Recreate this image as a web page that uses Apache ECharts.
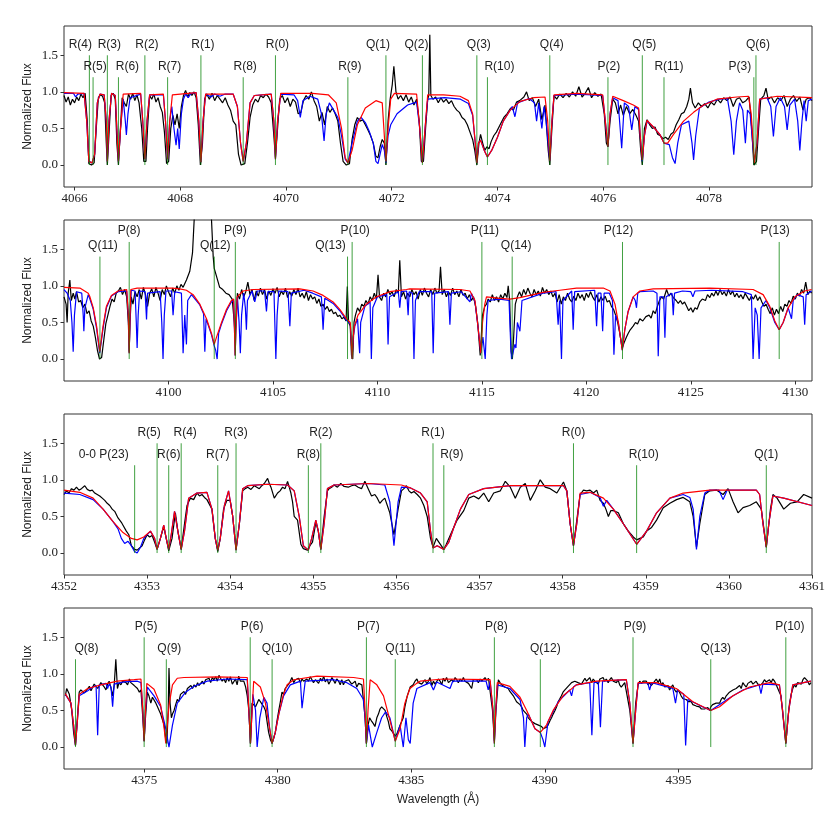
<!DOCTYPE html>
<html>
<head>
<meta charset="utf-8">
<script src="https://cdn.jsdelivr.net/npm/echarts@6.0.0/dist/echarts.min.js"></script>
<style>
html, body { margin: 0; padding: 0; background: #fff; }
#chart { width: 830px; height: 825px; }
</style>
</head>
<body>
<div id="chart"></div>
<script>
// ---- panel 1 : 4066 - 4080 A ----
var p1Ticks = [4066, 4068, 4070, 4072, 4074, 4076, 4078];
var p1Lines = [['R(4)',4066.28,1.5],['R(5)',4066.35,1.2],['R(3)',4066.62,1.5],['R(6)',4066.83,1.2],['R(2)',4067.33,1.5],['R(7)',4067.76,1.2],['R(1)',4068.39,1.5],['R(8)',4069.19,1.2],['R(0)',4069.80,1.5],['R(9)',4071.17,1.2],['Q(1)',4071.89,1.5],['Q(2)',4072.58,1.5],['Q(3)',4073.61,1.5],['R(10)',4073.81,1.2],['Q(4)',4074.99,1.5],['P(2)',4076.09,1.2],['Q(5)',4076.74,1.5],['R(11)',4077.15,1.2],['P(3)',4078.85,1.2],['Q(6)',4078.89,1.5]];
var p1Obs = [[4065.80,0.95],[4065.84,0.86],[4065.88,0.93],[4065.92,0.82],[4065.96,0.9],[4066.00,0.85],[4066.04,0.93],[4066.08,0.88],[4066.12,0.97],[4066.16,0.92],[4066.20,0.98],[4066.24,0.6],[4066.27,0.02],[4066.32,0.0],[4066.37,0.03],[4066.41,0.5],[4066.45,0.92],[4066.49,0.96],[4066.53,0.94],[4066.57,0.85],[4066.60,0.3],[4066.62,0.0],[4066.65,0.4],[4066.69,0.95],[4066.73,0.98],[4066.77,0.9],[4066.80,0.3],[4066.83,0.0],[4066.86,0.4],[4066.90,0.92],[4066.94,0.85],[4066.98,0.8],[4067.02,0.97],[4067.06,0.9],[4067.10,0.98],[4067.14,0.88],[4067.18,0.96],[4067.22,0.85],[4067.27,0.5],[4067.31,0.05],[4067.35,0.05],[4067.38,0.5],[4067.42,0.95],[4067.46,0.9],[4067.50,0.97],[4067.54,0.86],[4067.58,0.92],[4067.62,0.8],[4067.66,0.72],[4067.70,0.45],[4067.74,0.02],[4067.78,0.05],[4067.82,0.5],[4067.86,0.68],[4067.90,0.55],[4067.94,0.7],[4067.98,0.5],[4068.02,0.8],[4068.06,0.95],[4068.10,1.02],[4068.14,0.93],[4068.18,0.99],[4068.22,0.95],[4068.26,1.0],[4068.30,0.92],[4068.34,0.55],[4068.38,0.0],[4068.42,0.3],[4068.46,0.9],[4068.50,0.97],[4068.55,0.9],[4068.60,0.98],[4068.65,0.88],[4068.70,0.95],[4068.75,0.9],[4068.80,0.85],[4068.85,0.92],[4068.90,0.82],[4068.95,0.75],[4069.00,0.6],[4069.05,0.55],[4069.10,0.15],[4069.15,0.0],[4069.22,0.02],[4069.27,0.3],[4069.32,0.65],[4069.37,0.82],[4069.42,0.9],[4069.47,0.86],[4069.52,0.95],[4069.57,0.92],[4069.62,0.97],[4069.67,0.93],[4069.72,0.85],[4069.77,0.4],[4069.80,0.1],[4069.83,0.4],[4069.88,0.9],[4069.93,0.95],[4069.98,0.85],[4070.03,0.92],[4070.08,0.8],[4070.13,0.9],[4070.18,0.86],[4070.23,0.7],[4070.28,0.72],[4070.33,0.88],[4070.38,0.95],[4070.43,0.9],[4070.48,1.0],[4070.53,0.88],[4070.58,0.8],[4070.63,0.6],[4070.68,0.72],[4070.73,0.55],[4070.78,0.8],[4070.83,0.72],[4070.88,0.78],[4070.93,0.7],[4070.98,0.6],[4071.03,0.3],[4071.08,0.05],[4071.14,0.0],[4071.20,0.02],[4071.25,0.35],[4071.30,0.55],[4071.35,0.65],[4071.40,0.6],[4071.45,0.62],[4071.50,0.55],[4071.55,0.48],[4071.60,0.4],[4071.65,0.3],[4071.70,0.12],[4071.74,0.1],[4071.78,0.25],[4071.82,0.35],[4071.86,0.3],[4071.89,0.0],[4071.93,0.6],[4071.97,0.9],[4072.01,1.1],[4072.04,1.35],[4072.08,1.0],[4072.12,0.9],[4072.17,0.95],[4072.22,0.88],[4072.27,0.96],[4072.32,0.86],[4072.37,0.93],[4072.42,0.82],[4072.47,0.9],[4072.52,0.6],[4072.56,0.05],[4072.60,0.05],[4072.64,0.5],[4072.68,0.9],[4072.70,0.95],[4072.72,1.78],[4072.74,0.95],[4072.78,0.9],[4072.83,0.93],[4072.88,0.85],[4072.93,0.92],[4072.98,0.86],[4073.03,0.9],[4073.08,0.84],[4073.13,0.88],[4073.18,0.8],[4073.23,0.75],[4073.28,0.72],[4073.33,0.65],[4073.38,0.62],[4073.43,0.55],[4073.48,0.45],[4073.53,0.35],[4073.57,0.2],[4073.61,0.0],[4073.65,0.3],[4073.68,0.42],[4073.72,0.3],[4073.76,0.2],[4073.80,0.25],[4073.84,0.22],[4073.88,0.32],[4073.93,0.4],[4073.98,0.45],[4074.05,0.55],[4074.12,0.65],[4074.18,0.7],[4074.25,0.78],[4074.30,0.75],[4074.36,0.86],[4074.42,0.88],[4074.50,0.93],[4074.55,1.0],[4074.60,0.88],[4074.66,0.92],[4074.72,0.8],[4074.78,0.9],[4074.84,0.62],[4074.90,0.82],[4074.96,0.2],[4074.99,0.0],[4075.03,0.5],[4075.07,0.95],[4075.12,0.9],[4075.18,0.97],[4075.24,0.92],[4075.30,0.98],[4075.36,0.93],[4075.42,1.0],[4075.48,0.94],[4075.54,1.07],[4075.60,0.93],[4075.66,0.98],[4075.72,1.06],[4075.78,0.92],[4075.84,0.99],[4075.90,0.94],[4075.96,0.97],[4076.02,0.7],[4076.06,0.3],[4076.09,0.25],[4076.13,0.6],[4076.18,0.9],[4076.23,0.85],[4076.28,0.7],[4076.33,0.82],[4076.38,0.68],[4076.44,0.8],[4076.50,0.7],[4076.56,0.76],[4076.62,0.68],[4076.67,0.6],[4076.71,0.2],[4076.74,0.0],[4076.78,0.5],[4076.83,0.62],[4076.88,0.55],[4076.93,0.5],[4076.98,0.52],[4077.03,0.42],[4077.08,0.4],[4077.13,0.36],[4077.18,0.38],[4077.23,0.35],[4077.28,0.42],[4077.33,0.45],[4077.38,0.55],[4077.43,0.62],[4077.48,0.7],[4077.53,0.72],[4077.58,0.8],[4077.62,0.9],[4077.65,1.05],[4077.69,0.85],[4077.74,0.78],[4077.80,0.85],[4077.86,0.8],[4077.92,0.84],[4077.98,0.78],[4078.04,0.86],[4078.10,0.82],[4078.16,0.9],[4078.22,0.85],[4078.28,0.92],[4078.34,0.88],[4078.40,0.93],[4078.46,0.8],[4078.52,0.9],[4078.58,0.92],[4078.64,0.85],[4078.70,0.88],[4078.76,0.93],[4078.81,0.5],[4078.85,0.0],[4078.90,0.05],[4078.94,0.5],[4078.98,0.9],[4079.04,0.95],[4079.08,1.05],[4079.12,0.9],[4079.18,0.93],[4079.24,0.85],[4079.30,0.92],[4079.36,0.88],[4079.42,0.95],[4079.48,0.8],[4079.54,0.9],[4079.60,0.95],[4079.66,0.87],[4079.72,0.93],[4079.78,0.75],[4079.84,0.9],[4079.90,0.92],[4079.95,0.88]];
var p1Blue = [[4065.8,0.98],[4065.98,0.98],[4066.02,0.93],[4066.06,0.97],[4066.18,0.98],[4066.23,0.6],[4066.27,0.05],[4066.33,0.03],[4066.38,0.15],[4066.43,0.85],[4066.48,0.97],[4066.56,0.96],[4066.6,0.6],[4066.62,0.05],[4066.65,0.6],[4066.7,0.98],[4066.77,0.95],[4066.8,0.5],[4066.83,0.05],[4066.87,0.5],[4066.92,0.9],[4066.96,0.6],[4066.98,0.41],[4067.01,0.7],[4067.05,0.92],[4067.25,0.97],[4067.29,0.6],[4067.33,0.08],[4067.37,0.6],[4067.42,0.96],[4067.68,0.96],[4067.72,0.6],[4067.76,0.08],[4067.8,0.6],[4067.84,0.8],[4067.88,0.5],[4067.92,0.27],[4067.95,0.5],[4067.98,0.22],[4068.02,0.7],[4068.06,0.9],[4068.1,0.97],[4068.15,0.92],[4068.2,0.98],[4068.3,0.99],[4068.35,0.6],[4068.39,0.04],[4068.43,0.6],[4068.48,0.97],[4068.58,0.93],[4068.65,0.97],[4068.75,0.94],[4068.85,0.97],[4069.0,0.97],[4069.08,0.8],[4069.14,0.3],[4069.19,0.05],[4069.25,0.3],[4069.32,0.85],[4069.4,0.95],[4069.72,0.97],[4069.77,0.6],[4069.8,0.08],[4069.84,0.6],[4069.9,0.97],[4070.15,0.96],[4070.22,0.88],[4070.27,0.65],[4070.32,0.88],[4070.45,0.94],[4070.6,0.9],[4070.67,0.7],[4070.72,0.33],[4070.76,0.7],[4070.82,0.85],[4070.9,0.75],[4070.98,0.65],[4071.05,0.4],[4071.12,0.08],[4071.17,0.03],[4071.25,0.3],[4071.35,0.6],[4071.42,0.65],[4071.5,0.58],[4071.58,0.45],[4071.65,0.3],[4071.7,0.05],[4071.74,0.02],[4071.78,0.15],[4071.82,0.28],[4071.86,0.2],[4071.89,0.03],[4071.93,0.4],[4071.98,0.55],[4072.1,0.7],[4072.3,0.82],[4072.47,0.86],[4072.53,0.5],[4072.58,0.03],[4072.63,0.5],[4072.68,0.9],[4073.0,0.92],[4073.3,0.9],[4073.45,0.84],[4073.53,0.68],[4073.58,0.3],[4073.61,0.03],[4073.64,0.3],[4073.68,0.34],[4073.75,0.2],[4073.81,0.11],[4073.89,0.2],[4074.0,0.38],[4074.11,0.6],[4074.24,0.75],[4074.28,0.8],[4074.33,0.66],[4074.38,0.85],[4074.6,0.91],[4074.7,0.85],[4074.74,0.6],[4074.78,0.85],[4074.84,0.5],[4074.88,0.8],[4074.92,0.6],[4074.99,0.06],[4075.03,0.6],[4075.07,0.95],[4075.5,0.97],[4075.99,0.95],[4076.04,0.6],[4076.09,0.25],[4076.13,0.7],[4076.18,0.92],[4076.28,0.88],[4076.35,0.23],[4076.4,0.85],[4076.48,0.8],[4076.54,0.48],[4076.6,0.8],[4076.67,0.76],[4076.7,0.4],[4076.74,0.05],[4076.78,0.4],[4076.83,0.6],[4076.95,0.52],[4077.07,0.42],[4077.15,0.3],[4077.25,0.28],[4077.31,0.1],[4077.36,0.02],[4077.41,0.3],[4077.48,0.55],[4077.62,0.6],[4077.68,0.3],[4077.71,0.07],[4077.75,0.4],[4077.82,0.78],[4078.0,0.86],[4078.2,0.9],[4078.35,0.91],[4078.42,0.6],[4078.47,0.14],[4078.52,0.6],[4078.58,0.85],[4078.64,0.75],[4078.69,0.3],[4078.73,0.75],[4078.78,0.7],[4078.86,0.03],[4078.91,0.3],[4078.96,0.9],[4079.1,0.92],[4079.17,0.8],[4079.22,0.39],[4079.27,0.8],[4079.35,0.92],[4079.43,0.8],[4079.48,0.48],[4079.53,0.82],[4079.62,0.9],[4079.68,0.6],[4079.72,0.2],[4079.76,0.6],[4079.8,0.88],[4079.84,0.6],[4079.88,0.88],[4079.95,0.9]];
var p1Red = [[4065.8,0.99],[4066.18,0.98],[4066.23,0.6],[4066.27,0.05],[4066.33,0.03],[4066.38,0.15],[4066.43,0.85],[4066.48,0.97],[4066.56,0.96],[4066.6,0.6],[4066.62,0.05],[4066.65,0.6],[4066.7,0.98],[4066.77,0.95],[4066.8,0.5],[4066.83,0.05],[4066.87,0.5],[4066.92,0.97],[4067.25,0.98],[4067.29,0.6],[4067.33,0.08],[4067.37,0.6],[4067.42,0.96],[4067.68,0.97],[4067.72,0.6],[4067.76,0.08],[4067.8,0.6],[4067.85,0.96],[4068.3,0.99],[4068.35,0.6],[4068.39,0.04],[4068.43,0.6],[4068.48,0.97],[4069.0,0.97],[4069.08,0.8],[4069.14,0.3],[4069.19,0.05],[4069.25,0.3],[4069.32,0.85],[4069.4,0.95],[4069.72,0.97],[4069.77,0.6],[4069.8,0.08],[4069.84,0.6],[4069.9,0.98],[4070.5,0.98],[4070.8,0.96],[4070.95,0.85],[4071.05,0.5],[4071.12,0.1],[4071.17,0.03],[4071.25,0.2],[4071.35,0.55],[4071.5,0.78],[4071.7,0.88],[4071.82,0.85],[4071.86,0.4],[4071.89,0.05],[4071.93,0.5],[4071.98,0.9],[4072.05,0.98],[4072.47,0.97],[4072.53,0.5],[4072.58,0.03],[4072.63,0.5],[4072.68,0.96],[4072.98,0.96],[4073.29,0.94],[4073.45,0.88],[4073.53,0.7],[4073.58,0.3],[4073.61,0.03],[4073.64,0.3],[4073.68,0.34],[4073.75,0.2],[4073.81,0.11],[4073.89,0.2],[4074.0,0.38],[4074.11,0.6],[4074.24,0.75],[4074.43,0.87],[4074.68,0.92],[4074.9,0.93],[4074.95,0.6],[4074.99,0.06],[4075.03,0.6],[4075.07,0.96],[4075.5,0.98],[4075.99,0.96],[4076.04,0.6],[4076.09,0.25],[4076.13,0.7],[4076.18,0.94],[4076.38,0.88],[4076.57,0.82],[4076.67,0.78],[4076.7,0.4],[4076.74,0.07],[4076.78,0.4],[4076.83,0.61],[4076.95,0.52],[4077.07,0.42],[4077.15,0.3],[4077.22,0.3],[4077.33,0.42],[4077.52,0.6],[4077.71,0.72],[4077.9,0.82],[4078.15,0.9],[4078.53,0.93],[4078.75,0.94],[4078.8,0.7],[4078.86,0.03],[4078.91,0.3],[4078.96,0.9],[4079.29,0.94],[4079.95,0.92]];

// ---- panel 2 : 4095 - 4131 A ----
var p2Ticks = [4100, 4105, 4110, 4115, 4120, 4125, 4130];
var p2Lines = [['Q(11)',4096.72,1.4],['P(8)',4098.12,1.6],['Q(12)',4102.19,1.4],['P(9)',4103.2,1.6],['Q(13)',4108.57,1.4],['P(10)',4108.79,1.6],['P(11)',4115.0,1.6],['Q(14)',4116.45,1.4],['P(12)',4121.73,1.6],['P(13)',4129.23,1.6]];
var p2Obs = [[4095.0,0.85],[4095.1,0.75],[4095.15,0.5],[4095.2,0.9],[4095.28,1.08],[4095.35,0.8],[4095.44,0.9],[4095.52,0.82],[4095.6,0.92],[4095.7,0.78],[4095.8,0.8],[4095.9,0.7],[4096.0,0.75],[4096.1,0.62],[4096.2,0.66],[4096.3,0.52],[4096.4,0.45],[4096.5,0.3],[4096.6,0.12],[4096.7,0.0],[4096.8,0.02],[4096.9,0.25],[4097.0,0.48],[4097.1,0.6],[4097.2,0.72],[4097.3,0.82],[4097.4,0.78],[4097.5,0.9],[4097.6,0.93],[4097.7,0.98],[4097.8,0.88],[4097.9,0.95],[4098.0,0.85],[4098.08,0.5],[4098.12,0.1],[4098.16,0.5],[4098.22,0.85],[4098.3,0.75],[4098.4,0.92],[4098.5,0.85],[4098.6,0.95],[4098.7,0.82],[4098.8,0.98],[4098.9,0.88],[4099.0,0.72],[4099.1,0.9],[4099.2,0.96],[4099.3,0.85],[4099.4,0.98],[4099.5,0.9],[4099.6,0.8],[4099.7,0.95],[4099.8,0.88],[4099.9,1.0],[4100.0,0.92],[4100.1,0.85],[4100.2,0.97],[4100.3,0.9],[4100.4,1.0],[4100.5,0.94],[4100.6,1.02],[4100.7,0.98],[4100.86,1.08],[4101.02,1.2],[4101.15,1.45],[4101.23,1.9],[4101.3,2.4],[4101.7,2.8],[4102.0,2.3],[4102.06,1.9],[4102.14,1.4],[4102.19,1.24],[4102.3,1.13],[4102.45,0.98],[4102.6,0.95],[4102.75,0.9],[4102.9,0.88],[4103.05,0.82],[4103.15,0.5],[4103.19,0.3],[4103.24,0.6],[4103.3,0.9],[4103.4,0.82],[4103.5,0.95],[4103.6,0.85],[4103.7,0.92],[4103.8,1.05],[4103.9,0.88],[4104.0,0.95],[4104.1,0.8],[4104.2,0.93],[4104.3,0.86],[4104.4,0.97],[4104.5,0.88],[4104.6,0.95],[4104.7,0.82],[4104.8,0.93],[4104.9,0.87],[4105.0,0.96],[4105.1,0.9],[4105.2,0.98],[4105.3,0.85],[4105.4,0.93],[4105.5,0.88],[4105.6,0.97],[4105.7,0.84],[4105.8,0.92],[4105.9,0.86],[4106.0,0.95],[4106.1,0.88],[4106.2,0.97],[4106.3,0.85],[4106.4,0.9],[4106.5,0.83],[4106.6,0.92],[4106.7,0.8],[4106.8,0.88],[4106.9,0.82],[4107.0,0.85],[4107.1,0.76],[4107.2,0.82],[4107.3,0.72],[4107.4,0.75],[4107.5,0.68],[4107.6,0.72],[4107.7,0.65],[4107.8,0.68],[4107.9,0.62],[4108.0,0.64],[4108.1,0.58],[4108.2,0.6],[4108.3,0.55],[4108.4,0.57],[4108.5,0.52],[4108.56,0.99],[4108.62,0.5],[4108.7,0.45],[4108.76,0.05],[4108.82,0.0],[4108.88,0.5],[4108.95,0.6],[4109.05,0.7],[4109.15,0.65],[4109.25,0.75],[4109.35,0.72],[4109.45,0.8],[4109.55,0.75],[4109.65,0.85],[4109.75,0.8],[4109.85,0.9],[4109.95,0.82],[4110.03,1.15],[4110.1,0.85],[4110.2,0.8],[4110.3,0.9],[4110.4,0.85],[4110.5,0.95],[4110.6,0.88],[4110.7,0.92],[4110.8,0.85],[4110.9,0.95],[4111.0,0.9],[4111.07,1.35],[4111.15,0.85],[4111.25,0.92],[4111.35,0.82],[4111.45,0.9],[4111.55,0.85],[4111.65,0.95],[4111.75,0.88],[4111.85,0.92],[4111.95,0.82],[4112.05,0.95],[4112.15,0.87],[4112.25,0.97],[4112.35,0.9],[4112.45,0.85],[4112.55,0.95],[4112.65,0.88],[4112.75,0.97],[4112.85,0.9],[4112.95,0.93],[4113.02,1.26],[4113.1,0.88],[4113.2,0.95],[4113.3,0.85],[4113.4,0.92],[4113.5,0.87],[4113.6,0.97],[4113.7,0.88],[4113.8,0.93],[4113.9,0.85],[4114.0,0.95],[4114.1,0.87],[4114.2,0.9],[4114.3,0.82],[4114.4,0.88],[4114.5,0.8],[4114.6,0.85],[4114.7,0.72],[4114.8,0.5],[4114.92,0.05],[4115.03,0.6],[4115.14,0.72],[4115.22,0.75],[4115.3,0.82],[4115.4,0.78],[4115.5,0.88],[4115.6,0.8],[4115.7,0.85],[4115.8,0.78],[4115.9,0.88],[4116.0,0.82],[4116.1,0.9],[4116.2,0.84],[4116.26,1.0],[4116.33,0.8],[4116.4,0.1],[4116.46,0.0],[4116.52,0.3],[4116.6,0.75],[4116.7,0.85],[4116.8,0.92],[4116.9,0.85],[4117.0,0.95],[4117.1,0.88],[4117.2,0.97],[4117.3,0.9],[4117.4,0.85],[4117.5,0.95],[4117.6,0.88],[4117.7,0.93],[4117.8,0.86],[4117.9,0.98],[4118.0,0.9],[4118.1,0.95],[4118.2,0.88],[4118.3,0.93],[4118.4,0.85],[4118.5,0.9],[4118.6,0.78],[4118.7,0.88],[4118.8,0.75],[4118.9,0.85],[4119.0,0.8],[4119.1,0.9],[4119.2,0.82],[4119.3,0.78],[4119.4,0.86],[4119.5,0.8],[4119.6,0.9],[4119.7,0.83],[4119.8,0.88],[4119.9,0.8],[4120.0,0.9],[4120.1,0.84],[4120.2,0.92],[4120.3,0.85],[4120.4,0.8],[4120.5,0.88],[4120.6,0.78],[4120.7,0.85],[4120.8,0.8],[4120.9,0.86],[4121.0,0.78],[4121.1,0.8],[4121.2,0.72],[4121.3,0.68],[4121.4,0.6],[4121.5,0.5],[4121.6,0.35],[4121.72,0.15],[4121.8,0.22],[4121.92,0.3],[4122.0,0.35],[4122.1,0.4],[4122.24,0.45],[4122.35,0.5],[4122.45,0.48],[4122.56,0.55],[4122.7,0.52],[4122.85,0.58],[4123.0,0.6],[4123.1,0.56],[4123.2,0.66],[4123.3,0.62],[4123.4,0.72],[4123.5,0.8],[4123.6,0.85],[4123.7,0.82],[4123.84,0.95],[4123.95,0.86],[4124.05,0.9],[4124.16,0.84],[4124.3,0.8],[4124.4,0.76],[4124.5,0.8],[4124.6,0.75],[4124.7,0.78],[4124.8,0.72],[4124.9,0.66],[4125.0,0.7],[4125.1,0.64],[4125.2,0.7],[4125.3,0.68],[4125.43,0.78],[4125.55,0.82],[4125.7,0.8],[4125.8,0.88],[4125.91,0.84],[4126.0,0.9],[4126.1,0.86],[4126.2,0.93],[4126.3,0.87],[4126.4,0.95],[4126.5,0.88],[4126.6,0.92],[4126.7,0.86],[4126.8,0.95],[4126.9,0.88],[4127.0,0.93],[4127.1,0.85],[4127.2,0.9],[4127.3,0.84],[4127.4,0.88],[4127.5,0.82],[4127.6,0.9],[4127.7,0.85],[4127.8,0.8],[4127.9,0.86],[4128.0,0.82],[4128.1,0.88],[4128.2,0.8],[4128.3,0.85],[4128.4,0.78],[4128.5,0.72],[4128.6,0.75],[4128.7,0.68],[4128.8,0.62],[4128.9,0.7],[4129.0,0.6],[4129.1,0.68],[4129.2,0.62],[4129.3,0.72],[4129.4,0.65],[4129.5,0.75],[4129.6,0.72],[4129.7,0.8],[4129.8,0.76],[4129.9,0.86],[4130.0,0.82],[4130.1,0.9],[4130.2,0.86],[4130.3,0.95],[4130.4,0.9],[4130.5,1.05],[4130.6,0.88],[4130.7,0.93],[4130.78,0.9]];
var p2Blue = [[4095.0,0.95],[4095.15,0.9],[4095.3,0.8],[4095.38,0.5],[4095.44,0.1],[4095.5,0.6],[4095.6,0.92],[4095.85,0.9],[4095.92,0.6],[4095.95,0.38],[4096.0,0.7],[4096.16,0.88],[4096.24,0.82],[4096.4,0.68],[4096.56,0.42],[4096.71,0.08],[4096.87,0.42],[4097.03,0.7],[4097.27,0.86],[4097.59,0.92],[4098.0,0.93],[4098.08,0.6],[4098.12,0.08],[4098.16,0.6],[4098.22,0.94],[4098.4,0.93],[4098.46,0.5],[4098.5,0.15],[4098.55,0.6],[4098.62,0.93],[4098.88,0.92],[4098.95,0.54],[4099.0,0.9],[4099.6,0.92],[4099.68,0.5],[4099.74,0.0],[4099.8,0.6],[4099.88,0.93],[4100.15,0.93],[4100.22,0.6],[4100.3,0.92],[4100.62,0.9],[4100.7,0.08],[4100.78,0.6],[4100.86,0.2],[4100.92,0.8],[4101.1,0.88],[4101.5,0.74],[4101.68,0.62],[4101.74,0.1],[4101.8,0.55],[4102.06,0.33],[4102.19,0.18],[4102.26,0.12],[4102.33,0.0],[4102.4,0.35],[4102.54,0.48],[4102.78,0.66],[4103.01,0.78],[4103.12,0.8],[4103.16,0.4],[4103.19,0.05],[4103.23,0.4],[4103.3,0.85],[4103.38,0.5],[4103.44,0.08],[4103.5,0.6],[4103.6,0.9],[4103.68,0.7],[4103.73,0.4],[4103.78,0.8],[4104.0,0.93],[4104.13,0.78],[4104.25,0.93],[4104.6,0.93],[4104.69,0.65],[4104.76,0.92],[4105.05,0.92],[4105.1,0.4],[4105.14,0.0],[4105.2,0.6],[4105.28,0.93],[4105.72,0.92],[4105.81,0.45],[4105.88,0.9],[4106.5,0.94],[4106.9,0.9],[4107.32,0.85],[4107.4,0.4],[4107.48,0.83],[4107.88,0.76],[4108.2,0.66],[4108.52,0.53],[4108.7,0.48],[4108.76,0.2],[4108.79,0.0],[4108.84,0.3],[4108.92,0.45],[4109.05,0.55],[4109.12,0.2],[4109.15,0.08],[4109.2,0.5],[4109.4,0.72],[4109.65,0.78],[4109.71,0.0],[4109.78,0.7],[4110.0,0.85],[4110.45,0.88],[4110.51,0.2],[4110.58,0.85],[4111.0,0.92],[4111.07,0.7],[4111.14,0.92],[4111.4,0.93],[4111.47,0.6],[4111.52,0.92],[4111.68,0.9],[4111.75,0.0],[4111.82,0.8],[4112.0,0.92],[4112.6,0.92],[4112.67,0.08],[4112.74,0.9],[4113.4,0.92],[4113.47,0.47],[4113.54,0.9],[4114.0,0.92],[4114.43,0.78],[4114.5,0.9],[4114.67,0.78],[4114.83,0.4],[4114.95,0.08],[4115.05,0.3],[4115.16,0.0],[4115.24,0.6],[4115.3,0.8],[4115.86,0.82],[4116.3,0.8],[4116.38,0.2],[4116.42,0.0],[4116.5,0.1],[4116.58,0.2],[4116.63,0.15],[4116.7,0.5],[4116.82,0.38],[4116.92,0.8],[4117.93,0.9],[4118.55,0.92],[4118.65,0.47],[4118.72,0.8],[4118.81,0.0],[4118.88,0.8],[4119.3,0.93],[4119.37,0.4],[4119.44,0.92],[4120.4,0.94],[4120.49,0.45],[4120.56,0.9],[4120.7,0.9],[4120.78,0.38],[4120.85,0.9],[4121.1,0.9],[4121.25,0.8],[4121.32,0.06],[4121.4,0.6],[4121.53,0.5],[4121.72,0.12],[4121.84,0.4],[4122.0,0.65],[4122.24,0.85],[4122.34,0.8],[4122.4,0.7],[4122.46,0.9],[4122.56,0.92],[4123.2,0.93],[4123.38,0.9],[4123.44,0.04],[4123.52,0.85],[4123.7,0.85],[4123.76,0.29],[4123.82,0.85],[4124.1,0.9],[4124.16,0.6],[4124.22,0.9],[4124.6,0.93],[4125.0,0.92],[4125.1,0.85],[4125.2,0.93],[4126.0,0.94],[4127.5,0.92],[4127.9,0.88],[4127.98,0.0],[4128.08,0.7],[4128.18,0.6],[4128.27,0.0],[4128.36,0.7],[4128.6,0.8],[4128.78,0.7],[4129.02,0.5],[4129.23,0.4],[4129.42,0.5],[4129.66,0.7],[4129.82,0.55],[4129.9,0.8],[4130.1,0.88],[4130.38,0.85],[4130.45,0.47],[4130.52,0.88],[4130.78,0.93]];
var p2Red = [[4095.0,0.98],[4095.76,0.97],[4096.16,0.9],[4096.24,0.85],[4096.4,0.7],[4096.56,0.45],[4096.71,0.1],[4096.87,0.45],[4097.03,0.72],[4097.27,0.87],[4097.59,0.93],[4098.0,0.95],[4098.08,0.6],[4098.12,0.08],[4098.16,0.6],[4098.2,0.95],[4098.5,0.97],[4100.2,0.97],[4100.54,0.96],[4100.86,0.94],[4101.18,0.88],[4101.5,0.75],[4101.82,0.55],[4102.06,0.35],[4102.19,0.2],[4102.3,0.3],[4102.54,0.5],[4102.78,0.68],[4103.01,0.8],[4103.12,0.82],[4103.16,0.4],[4103.19,0.05],[4103.23,0.4],[4103.29,0.85],[4103.57,0.93],[4104.05,0.95],[4106.28,0.96],[4106.92,0.93],[4107.4,0.87],[4107.88,0.78],[4108.2,0.68],[4108.52,0.55],[4108.7,0.5],[4108.76,0.2],[4108.79,0.0],[4108.84,0.3],[4108.9,0.45],[4109.07,0.6],[4109.47,0.75],[4109.95,0.85],[4110.59,0.92],[4111.39,0.95],[4111.55,0.96],[4113.95,0.95],[4114.43,0.93],[4114.67,0.8],[4114.83,0.4],[4114.95,0.08],[4115.03,0.5],[4115.14,0.75],[4115.22,0.85],[4115.86,0.83],[4116.34,0.82],[4116.82,0.84],[4117.93,0.91],[4118.73,0.94],[4119.53,0.97],[4120.81,0.97],[4121.13,0.93],[4121.37,0.75],[4121.53,0.5],[4121.72,0.12],[4121.84,0.4],[4122.0,0.65],[4122.24,0.85],[4122.56,0.93],[4123.2,0.96],[4125.91,0.97],[4127.98,0.95],[4128.46,0.88],[4128.78,0.72],[4129.02,0.52],[4129.23,0.4],[4129.42,0.5],[4129.66,0.7],[4129.98,0.85],[4130.45,0.93],[4130.78,0.95]];

// ---- panel 3 : 4352 - 4361 A ----
var p3Ticks = [4352, 4353, 4354, 4355, 4356, 4357, 4358, 4359, 4360, 4361];
var p3Lines = [['0-0 P(23)',4352.85,1.2],['R(5)',4353.12,1.5],['R(6)',4353.26,1.2],['R(4)',4353.41,1.5],['R(7)',4353.85,1.2],['R(3)',4354.07,1.5],['R(8)',4354.94,1.2],['R(2)',4355.09,1.5],['R(1)',4356.44,1.5],['R(9)',4356.57,1.2],['R(0)',4358.13,1.5],['R(10)',4358.89,1.2],['Q(1)',4360.45,1.2]];
var p3Obs = [[4352.0,0.8],[4352.03,0.85],[4352.06,0.82],[4352.09,0.88],[4352.12,0.86],[4352.15,0.9],[4352.18,0.86],[4352.21,0.88],[4352.25,0.92],[4352.28,0.87],[4352.31,0.85],[4352.34,0.86],[4352.37,0.82],[4352.4,0.8],[4352.43,0.78],[4352.46,0.75],[4352.49,0.72],[4352.52,0.68],[4352.55,0.65],[4352.58,0.6],[4352.61,0.57],[4352.65,0.48],[4352.69,0.42],[4352.71,0.38],[4352.73,0.36],[4352.75,0.3],[4352.78,0.25],[4352.81,0.1],[4352.85,0.05],[4352.88,0.04],[4352.9,0.02],[4352.94,0.1],[4352.97,0.18],[4353.0,0.25],[4353.03,0.22],[4353.06,0.24],[4353.09,0.15],[4353.12,0.05],[4353.16,0.2],[4353.2,0.36],[4353.23,0.2],[4353.26,0.03],[4353.3,0.2],[4353.34,0.55],[4353.37,0.3],[4353.41,0.05],[4353.45,0.4],[4353.48,0.65],[4353.52,0.75],[4353.56,0.73],[4353.6,0.82],[4353.63,0.78],[4353.66,0.8],[4353.69,0.76],[4353.72,0.73],[4353.78,0.6],[4353.82,0.2],[4353.85,0.02],[4353.88,0.2],[4353.92,0.6],[4353.96,0.72],[4354.0,0.72],[4354.03,0.5],[4354.07,0.05],[4354.11,0.4],[4354.15,0.85],[4354.18,0.88],[4354.21,0.9],[4354.25,0.87],[4354.29,0.92],[4354.32,0.9],[4354.35,0.88],[4354.38,0.92],[4354.41,0.95],[4354.45,1.02],[4354.47,0.95],[4354.49,0.9],[4354.53,0.75],[4354.57,0.82],[4354.6,0.85],[4354.63,0.9],[4354.66,0.88],[4354.69,0.98],[4354.71,0.9],[4354.73,0.82],[4354.75,0.7],[4354.77,0.5],[4354.81,0.45],[4354.85,0.12],[4354.88,0.06],[4354.93,0.04],[4354.97,0.12],[4354.99,0.15],[4355.03,0.42],[4355.06,0.3],[4355.09,0.05],[4355.13,0.5],[4355.17,0.85],[4355.19,0.88],[4355.22,0.9],[4355.25,0.93],[4355.29,0.9],[4355.33,0.95],[4355.37,0.91],[4355.42,0.9],[4355.46,0.92],[4355.5,0.93],[4355.54,0.9],[4355.58,0.88],[4355.62,0.98],[4355.66,0.88],[4355.7,0.78],[4355.74,0.8],[4355.77,0.75],[4355.8,0.68],[4355.83,0.72],[4355.86,0.75],[4355.92,0.55],[4355.97,0.25],[4356.02,0.6],[4356.06,0.85],[4356.09,0.88],[4356.12,0.92],[4356.15,0.85],[4356.18,0.82],[4356.21,0.84],[4356.25,0.8],[4356.29,0.75],[4356.33,0.65],[4356.37,0.5],[4356.41,0.2],[4356.44,0.08],[4356.48,0.2],[4356.51,0.15],[4356.57,0.05],[4356.6,0.12],[4356.67,0.3],[4356.73,0.45],[4356.81,0.58],[4356.87,0.75],[4356.93,0.78],[4356.99,0.74],[4357.05,0.82],[4357.11,0.7],[4357.17,0.82],[4357.25,0.85],[4357.31,0.98],[4357.37,0.9],[4357.43,0.75],[4357.49,0.9],[4357.55,0.95],[4357.61,0.72],[4357.67,0.85],[4357.73,1.0],[4357.79,0.9],[4357.85,0.88],[4357.93,0.82],[4358.01,0.97],[4358.05,0.85],[4358.09,0.4],[4358.13,0.1],[4358.17,0.45],[4358.21,0.8],[4358.25,0.86],[4358.29,0.85],[4358.33,0.86],[4358.37,0.82],[4358.41,0.86],[4358.45,0.72],[4358.49,0.68],[4358.52,0.6],[4358.55,0.5],[4358.58,0.58],[4358.61,0.58],[4358.67,0.55],[4358.73,0.4],[4358.79,0.3],[4358.85,0.22],[4358.89,0.18],[4358.93,0.2],[4358.97,0.22],[4359.01,0.3],[4359.07,0.35],[4359.13,0.45],[4359.21,0.62],[4359.29,0.68],[4359.37,0.73],[4359.45,0.76],[4359.53,0.7],[4359.57,0.5],[4359.61,0.08],[4359.65,0.4],[4359.71,0.8],[4359.77,0.85],[4359.85,0.86],[4359.93,0.8],[4359.99,0.88],[4360.05,0.7],[4360.11,0.55],[4360.17,0.62],[4360.25,0.65],[4360.33,0.7],[4360.39,0.6],[4360.45,0.08],[4360.5,0.6],[4360.53,0.8],[4360.58,0.75],[4360.66,0.6],[4360.74,0.68],[4360.82,0.7],[4360.9,0.8],[4361.0,0.75]];
var p3Blue = [[4352.0,0.82],[4352.19,0.8],[4352.35,0.73],[4352.47,0.6],[4352.59,0.43],[4352.65,0.33],[4352.69,0.2],[4352.73,0.13],[4352.77,0.16],[4352.81,0.1],[4352.85,0.02],[4352.88,0.0],[4352.92,0.08],[4352.96,0.2],[4353.04,0.3],[4353.06,0.32],[4353.09,0.2],[4353.12,0.05],[4353.16,0.2],[4353.2,0.38],[4353.23,0.2],[4353.26,0.05],[4353.29,0.25],[4353.33,0.57],[4353.37,0.3],[4353.41,0.05],[4353.45,0.3],[4353.5,0.75],[4353.6,0.82],[4353.72,0.83],[4353.78,0.6],[4353.82,0.2],[4353.85,0.04],[4353.88,0.2],[4353.93,0.65],[4353.98,0.85],[4354.03,0.5],[4354.07,0.04],[4354.11,0.4],[4354.15,0.88],[4354.21,0.92],[4354.45,0.94],[4354.69,0.93],[4354.77,0.85],[4354.83,0.5],[4354.88,0.1],[4354.94,0.04],[4354.98,0.2],[4355.03,0.45],[4355.06,0.3],[4355.09,0.05],[4355.13,0.4],[4355.17,0.88],[4355.25,0.93],[4355.66,0.95],[4355.86,0.93],[4355.92,0.7],[4355.97,0.1],[4356.02,0.7],[4356.06,0.9],[4356.17,0.89],[4356.29,0.82],[4356.37,0.7],[4356.41,0.3],[4356.44,0.07],[4356.49,0.1],[4356.57,0.05],[4356.63,0.15],[4356.69,0.35],[4356.77,0.6],[4356.87,0.8],[4357.05,0.88],[4357.37,0.92],[4358.01,0.92],[4358.05,0.85],[4358.09,0.4],[4358.13,0.1],[4358.17,0.4],[4358.21,0.8],[4358.33,0.83],[4358.45,0.76],[4358.49,0.64],[4358.53,0.72],[4358.61,0.6],[4358.73,0.4],[4358.89,0.12],[4359.01,0.3],[4359.13,0.55],[4359.29,0.75],[4359.45,0.8],[4359.53,0.76],[4359.57,0.6],[4359.61,0.05],[4359.65,0.5],[4359.71,0.82],[4359.77,0.86],[4359.88,0.86],[4359.93,0.73],[4359.98,0.86],[4360.33,0.86],[4360.37,0.8],[4360.41,0.4],[4360.45,0.08],[4360.48,0.4],[4360.53,0.78],[4360.66,0.75],[4361.0,0.65]];
var p3Red = [[4352.0,0.86],[4352.19,0.83],[4352.35,0.75],[4352.47,0.6],[4352.59,0.43],[4352.71,0.28],[4352.81,0.2],[4352.88,0.18],[4352.96,0.22],[4353.04,0.3],[4353.06,0.32],[4353.09,0.2],[4353.12,0.05],[4353.16,0.2],[4353.2,0.38],[4353.23,0.2],[4353.26,0.05],[4353.29,0.25],[4353.33,0.57],[4353.37,0.3],[4353.41,0.05],[4353.45,0.3],[4353.5,0.75],[4353.6,0.82],[4353.72,0.83],[4353.78,0.6],[4353.82,0.2],[4353.85,0.04],[4353.88,0.2],[4353.93,0.65],[4353.98,0.85],[4354.03,0.5],[4354.07,0.04],[4354.11,0.4],[4354.15,0.88],[4354.21,0.92],[4354.45,0.94],[4354.69,0.93],[4354.77,0.85],[4354.83,0.5],[4354.88,0.1],[4354.94,0.04],[4354.98,0.2],[4355.03,0.45],[4355.06,0.3],[4355.09,0.05],[4355.13,0.4],[4355.17,0.88],[4355.25,0.93],[4355.66,0.95],[4356.06,0.93],[4356.17,0.89],[4356.29,0.82],[4356.37,0.7],[4356.41,0.3],[4356.44,0.07],[4356.49,0.1],[4356.57,0.05],[4356.63,0.15],[4356.69,0.35],[4356.77,0.6],[4356.87,0.8],[4357.05,0.88],[4357.37,0.92],[4358.01,0.92],[4358.05,0.85],[4358.09,0.4],[4358.13,0.1],[4358.17,0.4],[4358.21,0.82],[4358.33,0.83],[4358.49,0.75],[4358.61,0.6],[4358.73,0.4],[4358.89,0.12],[4359.01,0.3],[4359.13,0.55],[4359.29,0.75],[4359.45,0.82],[4359.77,0.86],[4360.33,0.86],[4360.37,0.8],[4360.41,0.4],[4360.45,0.08],[4360.48,0.4],[4360.53,0.78],[4360.66,0.75],[4361.0,0.65]];

// ---- panel 4 : 4372 - 4400 A ----
var p4Ticks = [4375, 4380, 4385, 4390, 4395];
var p4Lines = [['Q(8)',4372.43,1.2],['P(5)',4375.0,1.5],['Q(9)',4375.83,1.2],['P(6)',4378.97,1.5],['Q(10)',4379.79,1.2],['P(7)',4383.32,1.5],['Q(11)',4384.40,1.2],['P(8)',4388.11,1.5],['Q(12)',4389.83,1.2],['P(9)',4393.3,1.5],['Q(13)',4396.21,1.2],['P(10)',4399.02,1.5]];
var p4Obs = [[4372.05,0.7],[4372.1,0.8],[4372.14,0.82],[4372.2,0.72],[4372.29,0.5],[4372.36,0.2],[4372.43,0.02],[4372.5,0.4],[4372.57,0.75],[4372.63,0.78],[4372.7,0.8],[4372.76,0.74],[4372.82,0.72],[4372.89,0.8],[4372.95,0.83],[4373.01,0.77],[4373.07,0.75],[4373.13,0.86],[4373.2,0.88],[4373.26,0.8],[4373.32,0.82],[4373.38,0.88],[4373.45,0.88],[4373.51,0.82],[4373.57,0.78],[4373.63,0.86],[4373.69,0.9],[4373.75,0.82],[4373.82,0.7],[4373.88,0.85],[4373.94,1.2],[4374.0,0.8],[4374.06,0.88],[4374.13,0.85],[4374.19,0.9],[4374.25,0.92],[4374.32,0.88],[4374.38,0.85],[4374.45,0.93],[4374.5,0.88],[4374.56,0.9],[4374.63,0.84],[4374.7,0.86],[4374.75,0.8],[4374.82,0.75],[4374.88,0.78],[4374.95,0.4],[4375.0,0.08],[4375.05,0.4],[4375.12,0.75],[4375.18,0.7],[4375.25,0.6],[4375.31,0.68],[4375.37,0.7],[4375.44,0.6],[4375.5,0.55],[4375.56,0.5],[4375.62,0.45],[4375.68,0.38],[4375.75,0.3],[4375.81,0.1],[4375.85,0.05],[4375.9,0.5],[4375.93,1.08],[4375.97,0.6],[4376.02,0.4],[4376.06,0.45],[4376.12,0.5],[4376.18,0.58],[4376.24,0.65],[4376.3,0.62],[4376.36,0.72],[4376.43,0.7],[4376.49,0.76],[4376.55,0.72],[4376.62,0.8],[4376.68,0.78],[4376.75,0.84],[4376.81,0.8],[4376.87,0.85],[4376.94,0.82],[4377.0,0.88],[4377.05,0.84],[4377.11,0.82],[4377.18,0.9],[4377.24,0.86],[4377.3,0.92],[4377.36,0.9],[4377.43,0.94],[4377.49,0.88],[4377.55,0.95],[4377.61,0.92],[4377.68,0.96],[4377.74,0.9],[4377.8,0.98],[4377.86,0.98],[4377.92,0.9],[4377.99,0.93],[4378.05,0.88],[4378.11,0.95],[4378.17,0.9],[4378.23,0.96],[4378.3,0.86],[4378.36,0.88],[4378.42,0.93],[4378.48,0.85],[4378.54,0.97],[4378.6,0.9],[4378.67,0.88],[4378.73,0.9],[4378.8,0.82],[4378.86,0.7],[4378.92,0.5],[4378.98,0.05],[4379.04,0.6],[4379.1,0.58],[4379.17,0.55],[4379.23,0.6],[4379.29,0.65],[4379.35,0.62],[4379.42,0.6],[4379.48,0.55],[4379.54,0.5],[4379.6,0.35],[4379.66,0.2],[4379.73,0.1],[4379.79,0.05],[4379.85,0.12],[4379.91,0.2],[4379.97,0.35],[4380.04,0.5],[4380.1,0.62],[4380.16,0.75],[4380.22,0.72],[4380.28,0.8],[4380.35,0.82],[4380.41,0.86],[4380.47,0.9],[4380.53,0.95],[4380.6,0.88],[4380.66,0.92],[4380.72,0.9],[4380.78,0.94],[4380.85,0.88],[4380.91,0.93],[4380.97,0.9],[4381.03,0.88],[4381.09,0.93],[4381.15,0.9],[4381.22,0.96],[4381.28,0.96],[4381.34,0.88],[4381.41,0.92],[4381.47,0.92],[4381.53,0.87],[4381.6,0.94],[4381.66,0.9],[4381.72,0.97],[4381.78,0.89],[4381.85,0.93],[4381.91,0.86],[4381.97,0.9],[4382.03,0.95],[4382.09,0.93],[4382.15,0.87],[4382.21,0.93],[4382.28,0.9],[4382.34,0.85],[4382.4,0.92],[4382.46,0.85],[4382.52,0.9],[4382.59,0.88],[4382.65,0.92],[4382.71,0.9],[4382.77,0.86],[4382.84,0.84],[4382.9,0.9],[4382.96,0.82],[4383.03,0.87],[4383.09,0.85],[4383.15,0.85],[4383.22,0.6],[4383.27,0.4],[4383.32,0.05],[4383.38,0.3],[4383.44,0.4],[4383.52,0.35],[4383.58,0.32],[4383.64,0.28],[4383.71,0.4],[4383.77,0.45],[4383.83,0.52],[4383.89,0.55],[4383.96,0.55],[4384.02,0.5],[4384.08,0.42],[4384.14,0.35],[4384.2,0.25],[4384.27,0.22],[4384.33,0.2],[4384.4,0.15],[4384.46,0.18],[4384.51,0.2],[4384.58,0.3],[4384.64,0.35],[4384.7,0.4],[4384.76,0.55],[4384.85,0.7],[4384.96,0.82],[4385.07,0.85],[4385.14,0.9],[4385.21,0.93],[4385.27,0.88],[4385.33,0.9],[4385.39,0.86],[4385.45,0.88],[4385.52,0.92],[4385.58,0.86],[4385.64,0.9],[4385.7,0.95],[4385.77,0.84],[4385.83,0.9],[4385.89,0.86],[4385.95,0.87],[4386.01,0.93],[4386.08,0.9],[4386.14,0.85],[4386.2,0.94],[4386.26,0.9],[4386.32,0.95],[4386.39,0.88],[4386.45,0.86],[4386.51,0.92],[4386.58,0.89],[4386.64,0.95],[4386.7,0.92],[4386.76,0.88],[4386.83,0.93],[4386.89,0.9],[4386.95,0.95],[4387.01,0.9],[4387.08,0.92],[4387.14,0.87],[4387.2,0.85],[4387.26,0.8],[4387.32,0.92],[4387.39,0.9],[4387.45,0.92],[4387.51,0.88],[4387.58,0.93],[4387.64,0.9],[4387.7,0.88],[4387.76,0.95],[4387.83,0.91],[4387.89,0.94],[4387.95,0.95],[4388.04,0.5],[4388.11,0.08],[4388.17,0.5],[4388.26,0.92],[4388.32,0.88],[4388.38,0.85],[4388.44,0.86],[4388.5,0.82],[4388.57,0.84],[4388.63,0.8],[4388.69,0.76],[4388.75,0.75],[4388.82,0.7],[4388.88,0.66],[4388.94,0.62],[4389.0,0.6],[4389.07,0.58],[4389.13,0.55],[4389.19,0.5],[4389.25,0.48],[4389.32,0.45],[4389.38,0.4],[4389.44,0.38],[4389.5,0.35],[4389.56,0.33],[4389.63,0.32],[4389.69,0.3],[4389.76,0.3],[4389.83,0.28],[4389.88,0.28],[4389.94,0.25],[4390.0,0.25],[4390.06,0.27],[4390.12,0.3],[4390.19,0.36],[4390.25,0.4],[4390.31,0.45],[4390.38,0.5],[4390.44,0.55],[4390.5,0.62],[4390.56,0.66],[4390.62,0.7],[4390.68,0.75],[4390.75,0.78],[4390.81,0.8],[4390.87,0.83],[4390.93,0.85],[4391.0,0.88],[4391.06,0.86],[4391.12,0.9],[4391.18,0.92],[4391.24,0.88],[4391.3,0.9],[4391.37,0.86],[4391.43,0.88],[4391.5,0.94],[4391.56,0.9],[4391.62,0.92],[4391.68,0.95],[4391.75,0.88],[4391.81,0.93],[4391.87,0.9],[4391.93,0.9],[4392.0,0.86],[4392.06,0.93],[4392.12,0.95],[4392.18,0.95],[4392.24,0.9],[4392.3,0.93],[4392.37,0.88],[4392.43,0.92],[4392.49,0.95],[4392.56,0.9],[4392.62,0.88],[4392.68,0.88],[4392.74,0.92],[4392.8,0.85],[4392.86,0.82],[4392.93,0.8],[4392.99,0.88],[4393.05,0.9],[4393.18,0.5],[4393.3,0.05],[4393.4,0.6],[4393.49,0.85],[4393.55,0.9],[4393.62,0.87],[4393.68,0.9],[4393.74,0.88],[4393.8,0.9],[4393.86,0.85],[4393.92,0.88],[4393.98,0.84],[4394.05,0.87],[4394.11,0.86],[4394.17,0.93],[4394.24,0.88],[4394.3,0.93],[4394.36,0.85],[4394.42,0.88],[4394.49,0.82],[4394.55,0.8],[4394.61,0.84],[4394.67,0.78],[4394.73,0.82],[4394.79,0.85],[4394.86,0.78],[4394.92,0.75],[4394.98,0.78],[4395.04,0.75],[4395.1,0.7],[4395.17,0.66],[4395.23,0.68],[4395.29,0.65],[4395.36,0.62],[4395.42,0.6],[4395.48,0.62],[4395.54,0.58],[4395.6,0.6],[4395.67,0.56],[4395.73,0.55],[4395.79,0.55],[4395.86,0.52],[4395.92,0.5],[4395.98,0.52],[4396.04,0.5],[4396.1,0.54],[4396.17,0.5],[4396.21,0.55],[4396.28,0.58],[4396.35,0.56],[4396.41,0.6],[4396.47,0.62],[4396.54,0.6],[4396.6,0.65],[4396.66,0.68],[4396.72,0.65],[4396.79,0.7],[4396.85,0.72],[4396.91,0.75],[4396.97,0.73],[4397.04,0.78],[4397.1,0.76],[4397.16,0.8],[4397.22,0.78],[4397.29,0.84],[4397.35,0.8],[4397.41,0.88],[4397.47,0.85],[4397.54,0.82],[4397.6,0.87],[4397.66,0.85],[4397.72,0.9],[4397.79,0.86],[4397.85,0.88],[4397.91,0.9],[4397.97,0.86],[4398.03,0.88],[4398.09,0.85],[4398.16,0.88],[4398.22,0.92],[4398.28,0.89],[4398.34,0.9],[4398.41,0.92],[4398.47,0.88],[4398.53,0.93],[4398.6,0.9],[4398.66,0.85],[4398.72,0.8],[4398.78,0.75],[4398.84,0.7],[4398.92,0.4],[4399.02,0.05],[4399.1,0.4],[4399.16,0.6],[4399.22,0.72],[4399.28,0.8],[4399.34,0.85],[4399.4,0.82],[4399.46,0.88],[4399.53,0.9],[4399.6,0.86],[4399.66,0.92],[4399.72,0.95],[4399.78,0.97],[4399.84,0.9],[4399.9,0.85],[4399.96,0.88]];
var p4Blue = [[4372.05,0.72],[4372.26,0.6],[4372.36,0.3],[4372.43,0.03],[4372.49,0.3],[4372.57,0.7],[4372.89,0.77],[4373.07,0.82],[4373.2,0.84],[4373.26,0.16],[4373.32,0.85],[4373.57,0.87],[4373.63,0.8],[4373.69,0.86],[4373.76,0.82],[4373.82,0.55],[4373.88,0.86],[4374.25,0.89],[4374.75,0.9],[4374.88,0.88],[4374.95,0.5],[4375.0,0.08],[4375.05,0.5],[4375.12,0.82],[4375.37,0.7],[4375.62,0.55],[4375.81,0.25],[4375.93,0.0],[4376.06,0.3],[4376.24,0.6],[4376.55,0.75],[4376.87,0.83],[4377.36,0.9],[4378.11,0.93],[4378.86,0.92],[4378.92,0.5],[4378.98,0.05],[4379.04,0.5],[4379.07,0.72],[4379.17,0.5],[4379.23,0.0],[4379.33,0.4],[4379.48,0.68],[4379.6,0.6],[4379.7,0.25],[4379.79,0.05],[4379.91,0.2],[4380.04,0.45],[4380.22,0.7],[4380.47,0.85],[4380.85,0.9],[4380.91,0.53],[4381.03,0.9],[4382.09,0.92],[4382.59,0.88],[4382.96,0.8],[4383.21,0.65],[4383.27,0.4],[4383.32,0.05],[4383.4,0.3],[4383.54,0.0],[4383.71,0.2],[4383.89,0.4],[4384.04,0.48],[4384.2,0.4],[4384.4,0.08],[4384.58,0.3],[4384.7,0.0],[4384.8,0.4],[4384.89,0.1],[4384.96,0.05],[4385.07,0.6],[4385.21,0.8],[4385.7,0.88],[4385.83,0.78],[4385.95,0.89],[4386.45,0.8],[4386.55,0.9],[4387.8,0.9],[4387.88,0.78],[4387.95,0.9],[4388.06,0.5],[4388.11,0.05],[4388.16,0.5],[4388.22,0.85],[4388.69,0.8],[4389.07,0.65],[4389.2,0.4],[4389.25,0.0],[4389.32,0.4],[4389.38,0.45],[4389.63,0.25],[4389.83,0.2],[4389.93,0.1],[4390.0,0.0],[4390.12,0.35],[4390.5,0.62],[4390.93,0.78],[4391.0,0.7],[4391.07,0.82],[4391.18,0.85],[4391.68,0.88],[4391.76,0.16],[4391.84,0.88],[4392.0,0.89],[4392.08,0.27],[4392.16,0.9],[4393.05,0.92],[4393.18,0.6],[4393.3,0.05],[4393.4,0.5],[4393.49,0.87],[4393.85,0.88],[4393.92,0.78],[4394.0,0.88],[4394.79,0.8],[4394.89,0.6],[4394.97,0.78],[4395.2,0.72],[4395.27,0.02],[4395.35,0.65],[4395.79,0.57],[4396.21,0.5],[4396.91,0.67],[4397.41,0.78],[4398.02,0.85],[4398.09,0.73],[4398.16,0.86],[4398.78,0.85],[4398.9,0.5],[4399.02,0.05],[4399.13,0.5],[4399.28,0.85],[4399.96,0.9]];
var p4Red = [[4372.05,0.73],[4372.26,0.6],[4372.36,0.3],[4372.43,0.03],[4372.49,0.3],[4372.57,0.72],[4372.89,0.8],[4373.38,0.85],[4374.0,0.9],[4374.63,0.92],[4374.88,0.93],[4374.95,0.5],[4375.0,0.08],[4375.05,0.5],[4375.1,0.87],[4375.37,0.79],[4375.62,0.57],[4375.75,0.25],[4375.81,0.05],[4375.93,0.57],[4376.06,0.85],[4376.24,0.94],[4376.49,0.95],[4377.74,0.96],[4378.86,0.95],[4378.92,0.5],[4378.98,0.05],[4379.04,0.5],[4379.1,0.9],[4379.35,0.82],[4379.54,0.6],[4379.7,0.25],[4379.79,0.05],[4379.91,0.2],[4380.04,0.45],[4380.2,0.7],[4380.35,0.85],[4380.6,0.92],[4381.47,0.97],[4382.84,0.95],[4383.21,0.93],[4383.27,0.5],[4383.32,0.05],[4383.38,0.5],[4383.46,0.92],[4383.71,0.85],[4383.96,0.7],[4384.14,0.45],[4384.4,0.08],[4384.58,0.25],[4384.76,0.6],[4384.95,0.8],[4385.2,0.87],[4385.33,0.9],[4386.2,0.93],[4387.95,0.92],[4388.06,0.5],[4388.11,0.05],[4388.16,0.5],[4388.22,0.88],[4388.69,0.83],[4389.07,0.68],[4389.32,0.5],[4389.63,0.25],[4389.83,0.2],[4390.06,0.3],[4390.31,0.5],[4390.68,0.7],[4391.18,0.85],[4391.93,0.9],[4393.05,0.92],[4393.18,0.6],[4393.3,0.05],[4393.4,0.5],[4393.49,0.88],[4394.17,0.88],[4394.92,0.8],[4395.54,0.62],[4395.92,0.55],[4396.21,0.5],[4396.54,0.55],[4397.04,0.7],[4397.66,0.82],[4398.41,0.88],[4398.78,0.85],[4398.9,0.5],[4399.02,0.05],[4399.13,0.5],[4399.28,0.85],[4399.96,0.9]];

var yTicks = [0, 0.5, 1.0, 1.5];

var dom = document.getElementById('chart');
var myChart = echarts.init(dom, null, { renderer: 'canvas' });

var panels = [
    { obs: p1Obs, blue: p1Blue, red: p1Red, lines: p1Lines, ticks: p1Ticks, min: 4065.8, max: 4079.95 },
    { obs: p2Obs, blue: p2Blue, red: p2Red, lines: p2Lines, ticks: p2Ticks, min: 4095.0, max: 4130.8 },
    { obs: p3Obs, blue: p3Blue, red: p3Red, lines: p3Lines, ticks: p3Ticks, min: 4352, max: 4361 },
    { obs: p4Obs, blue: p4Blue, red: p4Red, lines: p4Lines, ticks: p4Ticks, min: 4372.0, max: 4400.0 }
];
var gridTops = [26, 220, 414, 608];
// horizontal nudges (px) of crowded labels, so they do not run into each other
var labelShift = [
    { 'R(4)': -9, 'R(5)': 2, 'R(3)': 2, 'R(6)': 9, 'R(2)': 2, 'R(7)': 2, 'R(1)': 2, 'R(8)': 2, 'R(0)': 2, 'R(9)': 2,
      'Q(1)': -8, 'Q(2)': -6, 'Q(3)': 2, 'R(10)': 12, 'Q(4)': 2, 'P(2)': 1, 'Q(5)': 2, 'R(11)': 5, 'P(3)': -14, 'Q(6)': 2 },
    { 'Q(11)': 3, 'Q(12)': 1, 'Q(13)': -17, 'P(10)': 3, 'P(11)': 3, 'Q(14)': 4, 'P(12)': -4, 'P(13)': -4 },
    { '0-0 P(23)': -31, 'R(5)': -8, 'R(4)': 4, 'R(9)': 8, 'R(10)': 7 },
    { 'Q(8)': 11, 'P(5)': 2, 'Q(9)': 3, 'P(6)': 2, 'Q(10)': 5, 'P(7)': 2, 'Q(11)': 5, 'P(8)': 2, 'Q(12)': 5, 'P(9)': 2, 'Q(13)': 5, 'P(10)': 4 }
];

var serif = '"Liberation Serif", "DejaVu Serif", serif';
var sans = '"Liberation Sans", "DejaVu Sans", sans-serif';

var grids = [], xAxes = [], yAxes = [], series = [];

function spectrum(data, color, i, z) {
    return {
        type: 'line',
        xAxisIndex: i,
        yAxisIndex: i,
        data: data,
        showSymbol: false,
        symbol: 'none',
        clip: true,
        z: z,
        lineStyle: { color: color, width: 1.2 },
        silent: true
    };
}

panels.forEach(function (p, i) {
    grids.push({
        left: 64, right: 18, top: gridTops[i], height: 161,
        show: true, borderColor: '#333', borderWidth: 1, backgroundColor: 'transparent'
    });
    xAxes.push({
        type: 'value', gridIndex: i, min: p.min, max: p.max,
        position: 'bottom',
        axisLine: { show: false, onZero: false },
        splitLine: { show: false },
        axisTick: { show: true, length: 3.5, customValues: p.ticks, lineStyle: { color: '#333' } },
        axisLabel: {
            customValues: p.ticks, margin: 5, color: '#222',
            fontFamily: serif, fontSize: 13,
            formatter: function (v) { return String(v); }
        },
        name: i === 3 ? 'Wavelength (Å)' : '',
        nameLocation: 'middle', nameGap: 25, nameMoveOverlap: false,
        nameTextStyle: { fontFamily: sans, fontSize: 12, color: '#222' }
    });
    yAxes.push({
        type: 'value', gridIndex: i, min: -0.3, max: 1.9,
        position: 'left',
        axisLine: { show: false, onZero: false },
        splitLine: { show: false },
        axisTick: { show: true, length: 3.5, customValues: yTicks, lineStyle: { color: '#333' } },
        axisLabel: {
            customValues: yTicks, margin: 6, color: '#222',
            fontFamily: serif, fontSize: 13,
            formatter: function (v) { return v.toFixed(1); }
        },
        name: 'Normalized Flux', nameLocation: 'middle', nameGap: 30, nameMoveOverlap: false,
        nameTextStyle: { fontFamily: sans, fontSize: 12, color: '#222' }
    });

    series.push(spectrum(p.obs, '#000000', i, 2));
    series.push(spectrum(p.blue, '#0000ff', i, 3));
    series.push(spectrum(p.red, '#ff0000', i, 4));

    // line identifications: vertical green marks from 0 up to a label
    series.push({
        type: 'custom',
        xAxisIndex: i,
        yAxisIndex: i,
        z: 5,
        silent: true,
        data: p.lines.map(function (l) { return [l[1], l[2]]; }),
        renderItem: function (params, api) {
            var name = p.lines[params.dataIndex][0];
            var bottom = api.coord([api.value(0), 0]);
            var top = api.coord([api.value(0), api.value(1)]);
            var dx = labelShift[i][name] || 0;
            return {
                type: 'group',
                children: [
                    {
                        type: 'line',
                        shape: { x1: bottom[0], y1: bottom[1], x2: top[0], y2: top[1] },
                        style: { stroke: 'rgba(0,128,0,0.75)', lineWidth: 1 }
                    },
                    {
                        type: 'text',
                        style: {
                            text: name,
                            x: top[0] + dx,
                            y: top[1] - 11,
                            align: 'center',
                            verticalAlign: 'middle',
                            fontFamily: sans,
                            fontSize: 12,
                            fill: '#222'
                        }
                    }
                ]
            };
        }
    });
});

var option = {
    backgroundColor: '#fff',
    animation: false,
    textStyle: { fontFamily: sans },
    grid: grids,
    xAxis: xAxes,
    yAxis: yAxes,
    series: series
};

if (option && typeof option === 'object') {
    myChart.setOption(option);
}
window.addEventListener('resize', myChart.resize);
</script>
</body>
</html>
